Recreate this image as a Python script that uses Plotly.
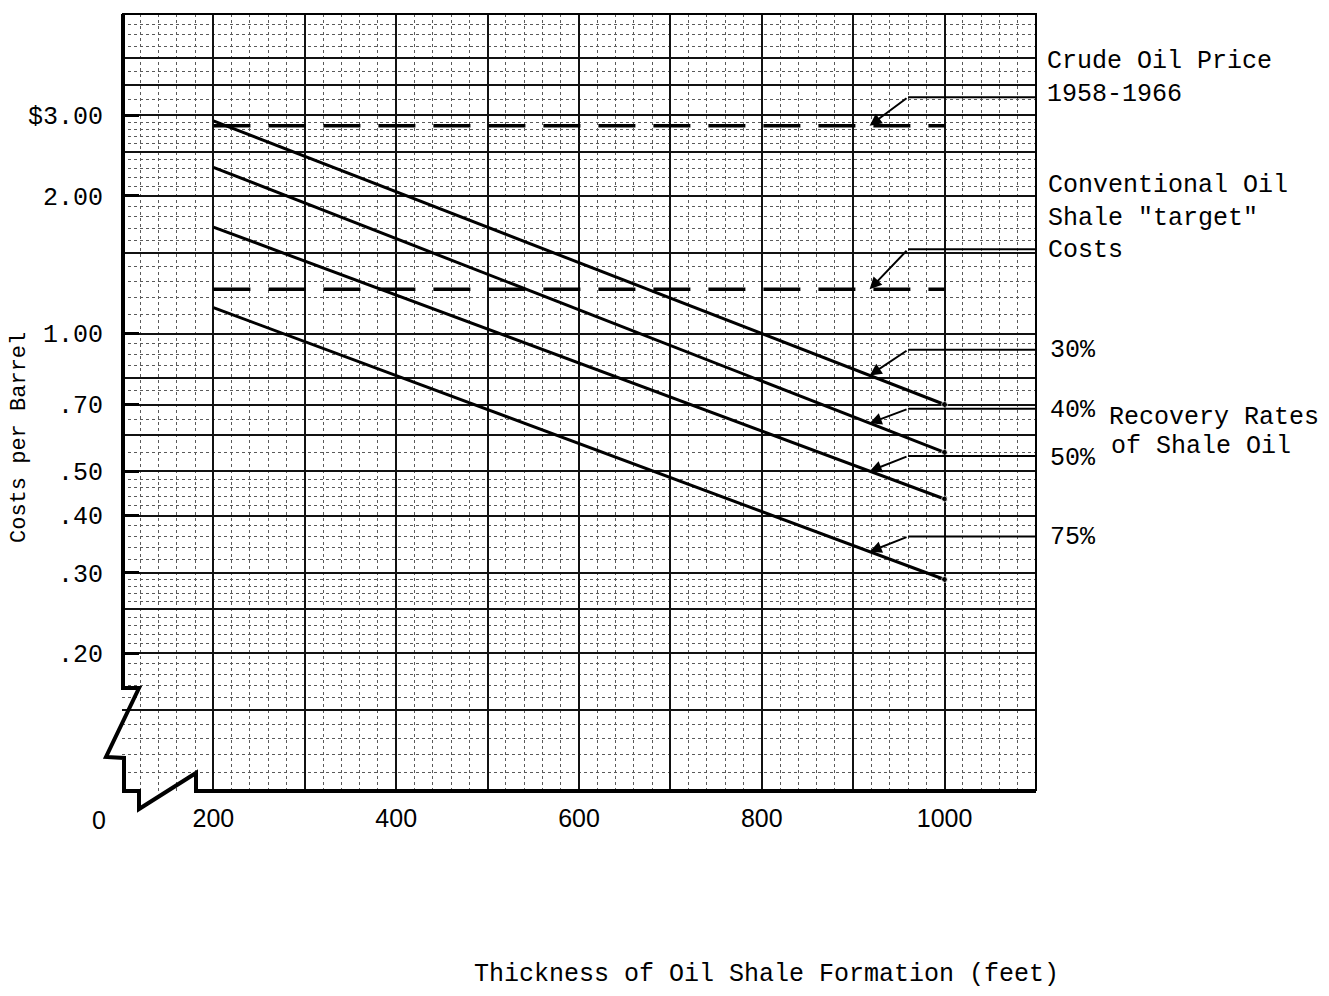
import math
import numpy as np
import plotly.graph_objects as go

# ---------------- data ----------------
THICKNESS_FT = [200, 1000]
COST_RECOVERY_30 = [2.92, 0.70]
COST_RECOVERY_40 = [2.31, 0.55]
COST_RECOVERY_50 = [1.71, 0.435]
COST_RECOVERY_75 = [1.14, 0.29]
CRUDE_OIL_PRICE = [2.85, 2.85]
TARGET_COST = [1.25, 1.25]

X_TICK_VALUES = [200, 400, 600, 800, 1000]
X_TICK_TEXT = ["200", "400", "600", "800", "1000"]
Y_TICK_VALUES = [0.20, 0.30, 0.40, 0.50, 0.70, 1.00, 2.00, 3.00]
Y_TICK_TEXT = [".20", ".30", ".40", ".50", ".70", "1.00", "2.00", "$3.00"]
X_ORIGIN_TEXT = "0"

X_RANGE = [100, 1100]
Y_RANGE = [0.1, 5.0]

# graph-paper rulings
X_RULE_HEAVY = [100, 300, 500, 700, 900, 1100]
X_RULE_LIGHT = [v for v in range(120, 1100, 20) if v % 100 != 0]
Y_RULE_HEAVY = [0.10, 0.15, 0.25, 0.60, 0.80, 1.5, 2.5, 3.5, 4.0]
_light = [round(0.11 + 0.01 * i, 2) for i in range(19)]
_light += [0.32, 0.34, 0.36, 0.38, 0.42, 0.44, 0.46, 0.48]
_light += [0.55, 0.65, 0.75, 0.85, 0.90, 0.95]
_light += [round(1.1 + 0.1 * i, 1) for i in range(19)]
_light += [3.25, 3.75, 4.25, 4.5, 4.75]
_taken = {round(v, 3) for v in Y_RULE_HEAVY + Y_TICK_VALUES}
Y_RULE_LIGHT = [v for v in _light if round(v, 3) not in _taken]

# ---------------- layout geometry (page pixels) ----------------
OFF = 8                      # default body margin of the html page
PAGE_W, PAGE_H = 1329, 996
PLOT_L, PLOT_R, PLOT_T, PLOT_B = 122, 1036, 14, 791


def pxp(x):
    return (x - PLOT_L) / (PLOT_R - PLOT_L)


def pyp(y):
    return (PLOT_B - y) / (PLOT_B - PLOT_T)


MONO = "Liberation Mono"
SANS = "Liberation Sans"
INK = "#000000"

fig = go.Figure()

# solid recovery-rate lines
for ys in [COST_RECOVERY_30, COST_RECOVERY_40, COST_RECOVERY_50, COST_RECOVERY_75]:
    fig.add_trace(go.Scatter(
        x=THICKNESS_FT, y=ys, mode="lines+markers",
        line=dict(color=INK, width=3),
        marker=dict(size=[0, 6], color=INK),
        showlegend=False, hoverinfo="skip", cliponaxis=False))

# dashed reference cost lines
for ys in [CRUDE_OIL_PRICE, TARGET_COST]:
    fig.add_trace(go.Scatter(
        x=THICKNESS_FT, y=ys, mode="lines",
        line=dict(color=INK, width=3.5, dash="37px,18px"),
        showlegend=False, hoverinfo="skip"))

# leader lines and arrows for the labels on the right
ARROW_TIP_X = 918
ARROW_TAIL_X = 960
LEADER_LEVELS = [3.29, 1.53, 0.922, 0.685, 0.540, 0.360]
ARROW_SERIES = [CRUDE_OIL_PRICE, TARGET_COST, COST_RECOVERY_30,
                COST_RECOVERY_40, COST_RECOVERY_50, COST_RECOVERY_75]

lx, ly = [], []
for lev in LEADER_LEVELS:
    lx += [ARROW_TAIL_X, X_RANGE[1], None]
    ly += [lev, lev, None]
fig.add_trace(go.Scatter(x=lx, y=ly, mode="lines",
                         line=dict(color=INK, width=2),
                         showlegend=False, hoverinfo="skip"))

annotations = []
for ys, lev in zip(ARROW_SERIES, LEADER_LEVELS):
    tip_log = np.interp(ARROW_TIP_X, THICKNESS_FT, np.log10(ys))
    annotations.append(dict(
        x=ARROW_TIP_X, y=float(tip_log), xref="x", yref="y",
        ax=ARROW_TAIL_X, ay=math.log10(lev), axref="x", ayref="y",
        text="", showarrow=True, arrowhead=2, arrowsize=1.2,
        arrowwidth=2, arrowcolor=INK, standoff=0))

# helper overlay axes carrying the heavy rulings of the graph paper
fig.add_trace(go.Scatter(x=[None], y=[None], xaxis="x2", yaxis="y2",
                         showlegend=False, hoverinfo="skip"))

TEXT_NOTES = [
    ("Crude Oil Price<br>1958-1966", 1045, 78),
    ("Conventional Oil<br>Shale \"target\"<br>Costs", 1046, 218),
    ("30%", 1048, 350),
    ("40%", 1048, 410),
    ("50%", 1048, 458),
    ("75%", 1048, 537),
    ("Recovery Rates", 1107, 418),
    ("of Shale Oil", 1109, 447),
]
for txt, x, y in TEXT_NOTES:
    annotations.append(dict(
        text=txt, x=pxp(x), y=pyp(y), xref="paper", yref="paper",
        xanchor="left", yanchor="middle", align="left", showarrow=False,
        font=dict(family=MONO, size=25, color=INK)))

# origin label of the broken axis
annotations.append(dict(
    text=X_ORIGIN_TEXT, x=pxp(99), y=pyp(820), xref="paper", yref="paper",
    xanchor="center", yanchor="middle", showarrow=False,
    font=dict(family=SANS, size=25, color=INK)))

# axis titles
annotations.append(dict(
    text="Thickness of Oil Shale Formation (feet)", x=pxp(766), y=pyp(974),
    xref="paper", yref="paper", xanchor="center", yanchor="middle",
    showarrow=False, font=dict(family=MONO, size=25, color=INK)))
annotations.append(dict(
    text="Costs per Barrel", x=pxp(20), y=pyp(438), textangle=-90,
    xref="paper", yref="paper", xanchor="center", yanchor="middle",
    showarrow=False, font=dict(family=MONO, size=22, color=INK)))

# heavy axis with break symbol, and thin border
BREAK_PATH_PX = [(123, 14), (123, 688), (139, 688), (106, 757), (124, 758),
                 (124, 791), (139, 791), (139, 809), (196, 773), (196, 791),
                 (PLOT_R, 791)]
BORDER_PATH_PX = [(PLOT_L, PLOT_T), (PLOT_R, PLOT_T), (PLOT_R, PLOT_B)]


def path_of(points):
    return "M " + " L ".join(f"{pxp(x):.5f},{pyp(y):.5f}" for x, y in points)


shapes = [
    dict(type="path", path=path_of(BREAK_PATH_PX), xref="paper", yref="paper",
         line=dict(color=INK, width=4)),
    dict(type="path", path=path_of(BORDER_PATH_PX), xref="paper", yref="paper",
         line=dict(color=INK, width=2)),
]

HEAVY_GRID = dict(showgrid=True, gridcolor="#111111", gridwidth=1.5)
LIGHT_MINOR = dict(showgrid=True, gridcolor="#5a5a5a", gridwidth=1,
                   griddash="dot", ticks="")

fig.update_layout(
    width=PAGE_W - 2 * OFF, height=PAGE_H - 2 * OFF,
    margin=dict(l=PLOT_L - OFF, r=PAGE_W - OFF - PLOT_R,
                t=PLOT_T - OFF, b=PAGE_H - OFF - PLOT_B, pad=0),
    paper_bgcolor="white", plot_bgcolor="white", showlegend=False,
    xaxis=dict(range=X_RANGE, tickmode="array", tickvals=X_TICK_VALUES,
               ticktext=X_TICK_TEXT, ticks="", showline=False, zeroline=False,
               tickfont=dict(family=SANS, size=25, color=INK),
               ticklabelstandoff=10, **HEAVY_GRID,
               minor=dict(tickmode="array", tickvals=X_RULE_LIGHT, **LIGHT_MINOR)),
    yaxis=dict(type="log", range=[math.log10(Y_RANGE[0]), math.log10(Y_RANGE[1])],
               tickmode="array", tickvals=Y_TICK_VALUES, ticktext=Y_TICK_TEXT,
               ticks="inside", ticklen=17, tickwidth=3, tickcolor=INK,
               showline=False, zeroline=False,
               tickfont=dict(family=MONO, size=25, color=INK),
               ticklabelstandoff=18, **HEAVY_GRID,
               minor=dict(tickmode="array", tickvals=Y_RULE_LIGHT, **LIGHT_MINOR)),
    xaxis2=dict(overlaying="x", anchor="y2", range=X_RANGE, tickmode="array",
                tickvals=X_RULE_HEAVY, showticklabels=False, ticks="",
                showline=False, zeroline=False, **HEAVY_GRID),
    yaxis2=dict(overlaying="y", anchor="x2", type="log",
                range=[math.log10(Y_RANGE[0]), math.log10(Y_RANGE[1])],
                tickmode="array", tickvals=Y_RULE_HEAVY, showticklabels=False,
                ticks="", showline=False, zeroline=False, **HEAVY_GRID),
    annotations=annotations,
    shapes=shapes,
)

fig.write_html("out.html")
